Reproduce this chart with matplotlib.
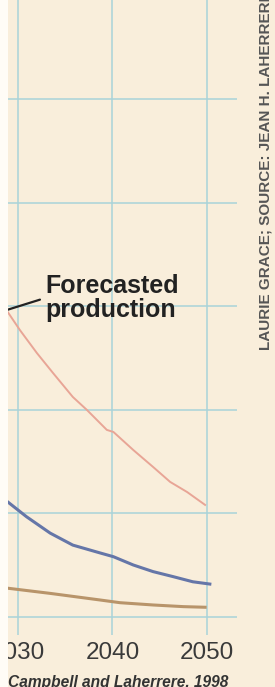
import matplotlib
matplotlib.use('Agg')
import matplotlib.pyplot as plt
from matplotlib.patches import Rectangle

plt.rcParams['font.family'] = ['Liberation Sans', 'DejaVu Sans']

# forecasted production (pink)
years_fc = [2028.9, 2030.2, 2032.0, 2033.7, 2035.8, 2037.3, 2039.4, 2040.1,
            2042.2, 2044.3, 2046.1, 2047.9, 2049.8]
prod_fc = [14.73, 13.85, 12.74, 11.78, 10.62, 9.99, 9.03, 8.93,
           8.06, 7.24, 6.52, 6.03, 5.41]

# blue series
years_blue = [2028.9, 2030.9, 2033.4, 2035.8, 2038.7, 2040.1, 2042.2,
              2044.3, 2046.4, 2048.5, 2050.3]
prod_blue = [5.56, 4.84, 4.05, 3.47, 3.09, 2.91, 2.51, 2.19, 1.95, 1.70, 1.59]

# brown series
years_brown = [2028.9, 2033.4, 2038.7, 2040.8, 2044.3, 2047.5, 2049.8]
prod_brown = [1.39, 1.14, 0.82, 0.69, 0.58, 0.50, 0.47]

xticks = [2030, 2040, 2050]
xtick_labels = ['2030', '2040', '2050']
yticks = [0, 5, 10, 15, 20, 25]

bg = '#f9eedb'
W, H = 275, 687

fig = plt.figure(figsize=(W / 100, H / 100), dpi=100, facecolor=bg)
ax = fig.add_axes([8 / W, (H - 635) / H, (237 - 8) / W, 635 / H])
ax.set_facecolor(bg)

ax.plot(years_fc, prod_fc, color='#e8a596', lw=1.4, zorder=3)
ax.plot(years_blue, prod_blue, color='#6576a8', lw=2.2, zorder=3)
ax.plot(years_brown, prod_brown, color='#b8946a', lw=2.2, zorder=3)

ax.set_xlim(2028.942, 2053.175)
ax.set_ylim(-0.869, 29.78)
ax.set_xticks(xticks)
ax.set_xticklabels(xtick_labels)
ax.set_yticks(yticks)
ax.set_yticklabels([])
ax.tick_params(axis='both', length=0)
ax.tick_params(axis='x', labelsize=17.5, labelcolor='#3a3a3a', pad=5)
ax.grid(True, color='#a9d3d9', lw=1.1)
ax.set_axisbelow(True)
for s in ax.spines.values():
    s.set_visible(False)

ax.annotate('Forecasted\nproduction', xy=(years_fc[0], prod_fc[0] + 0.1),
            xytext=(2032.9, 15.4), textcoords='data',
            ha='left', va='center', fontsize=18, fontweight='bold',
            color='#222222', linespacing=1.0,
            arrowprops=dict(arrowstyle='-', color='#222222', lw=1.6,
                            shrinkA=2, shrinkB=0, relpos=(0, 0.5)))

fig.text(265 / W, (H - 350) / H, 'LAURIE GRACE; SOURCE: JEAN H. LAHERRERE',
         rotation=90, ha='center', va='bottom', fontsize=11,
         fontweight='bold', color='#555555')

fig.text(8 / W, (H - 687) / H, 'Campbell and Laherrere, 1998',
         ha='left', va='baseline', fontsize=11.2, fontweight='bold',
         style='italic', color='#333333')

# pale strip on the left edge
fig.add_artist(Rectangle((0, 0), 8 / W, 1, transform=fig.transFigure,
                         facecolor='#fffcf6', edgecolor='none', zorder=10))

fig.savefig('out.png', dpi=100, facecolor=bg)
